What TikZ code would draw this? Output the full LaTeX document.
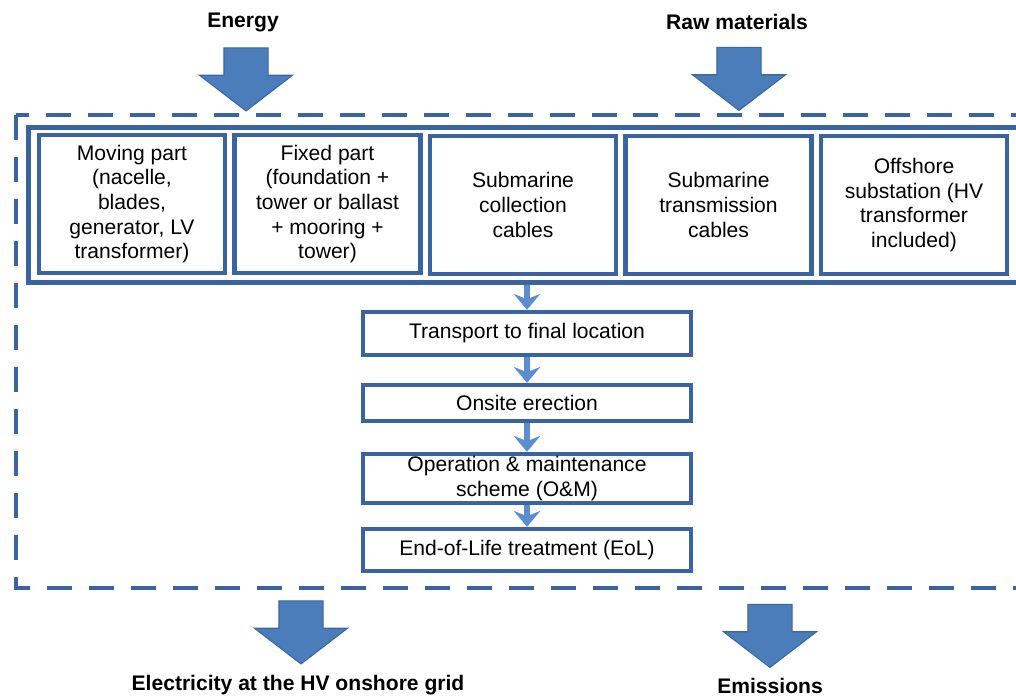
\documentclass[tikz,border=0pt]{standalone}
\usepackage{fontspec}
\setmainfont{Liberation Sans}
\usetikzlibrary{arrows.meta,shapes.arrows}
\definecolor{frameblue}{HTML}{3A63A1}
\definecolor{arrowfill}{HTML}{4A7DBA}
\definecolor{arrowline}{HTML}{3B66A0}
\definecolor{flowblue}{HTML}{5B8DD0}
\tikzstyle{partbox}=[rectangle,draw=frameblue,line width=2.5pt,fill=white,minimum width=3.72cm,minimum height=2.76cm,align=center,inner sep=2pt,font=\fontsize{12}{14}\selectfont]
\tikzstyle{stepbox}=[rectangle,draw=frameblue,line width=2.5pt,fill=white,minimum width=6.56cm,align=center,inner sep=1pt,font=\fontsize{12}{14}\selectfont]
\tikzstyle{container}=[rectangle,draw=frameblue,line width=2.8pt,minimum width=20cm,minimum height=3.1cm,inner sep=0pt]
\tikzstyle{dashframe}=[draw=frameblue,line width=2.8pt,dash pattern=on 0.5cm off 0.34cm]
\tikzstyle{bigarrow}=[single arrow,fill=arrowfill,draw=arrowline,line width=0.6pt,shape border rotate=270,minimum height=1.26cm,minimum width=1.84cm,single arrow head extend=0.49cm,single arrow tip angle=105,inner xsep=0.43cm,inner ysep=0pt]
\tikzstyle{flow}=[draw=flowblue,line width=3pt,-{Stealth[length=9pt,width=15pt]}]
\tikzstyle{iolabel}=[font=\bfseries\fontsize{12}{14}\selectfont]

\begin{document}
\begin{tikzpicture}[x=0.02cm,y=-0.02cm]

\useasboundingbox (0,0) rectangle (1016,696);
\clip (0,0) rectangle (1016,696);

    % system boundary
    \draw[dashframe] (16,115) rectangle (1040,588);
    \node[container] (parts) at (528.5,205) {};

    \foreach \pos/ \name/ \txt in {{(132,204)/moving/{Moving part\\(nacelle,\\blades,\\generator, LV\\transformer)}},
        {(327.5,204)/fixed/{Fixed part\\(foundation +\\tower or ballast\\+ mooring +\\tower)}},
        {(523,205)/collection/{Submarine\\collection\\cables}},
        {(718.5,205)/transmission/{Submarine\\transmission\\cables}},
        {(914,205)/offshore/{Offshore\\substation (HV\\transformer\\included)}}}
        \node[partbox] (\name) at \pos {\txt};

    \foreach \pos/ \name/ \boxh/ \txt in {{(527,333.5)/transport/0.86cm/{Transport to final location}},
        {(527,403)/onsite/0.72cm/{Onsite erection}},
        {(527,478.5)/operation/0.98cm/{Operation \& maintenance\\scheme (O\&M)}},
        {(527,550)/endoflife/0.84cm/{End-of-Life treatment (EoL)}}}
        \node[stepbox,minimum height=\boxh] (\name) at \pos {\txt};

    \draw[flow] (transport.north |- parts.south) -- (transport.north);
    \foreach \source/ \dest in {transport/onsite, onsite/operation, operation/endoflife}
        \draw[flow] (\source) -- (\dest);

    % inputs and outputs
    \node[iolabel] (energy) at (243,22) {Energy};
    \node[iolabel] (raw) at (737,22) {Raw materials};
    \node[iolabel] (electricity) at (298,685) {Electricity at the HV onshore grid};
    \node[iolabel] (emissions) at (770,686) {Emissions};

    \node[bigarrow] (energyin) at (246,71) {};
    \node[bigarrow] (rawin) at (739,70.5) {};
    \node[bigarrow] (elecout) at (301,624) {};
    \node[bigarrow] (emisout) at (770,627.5) {};

\end{tikzpicture}
\end{document}
